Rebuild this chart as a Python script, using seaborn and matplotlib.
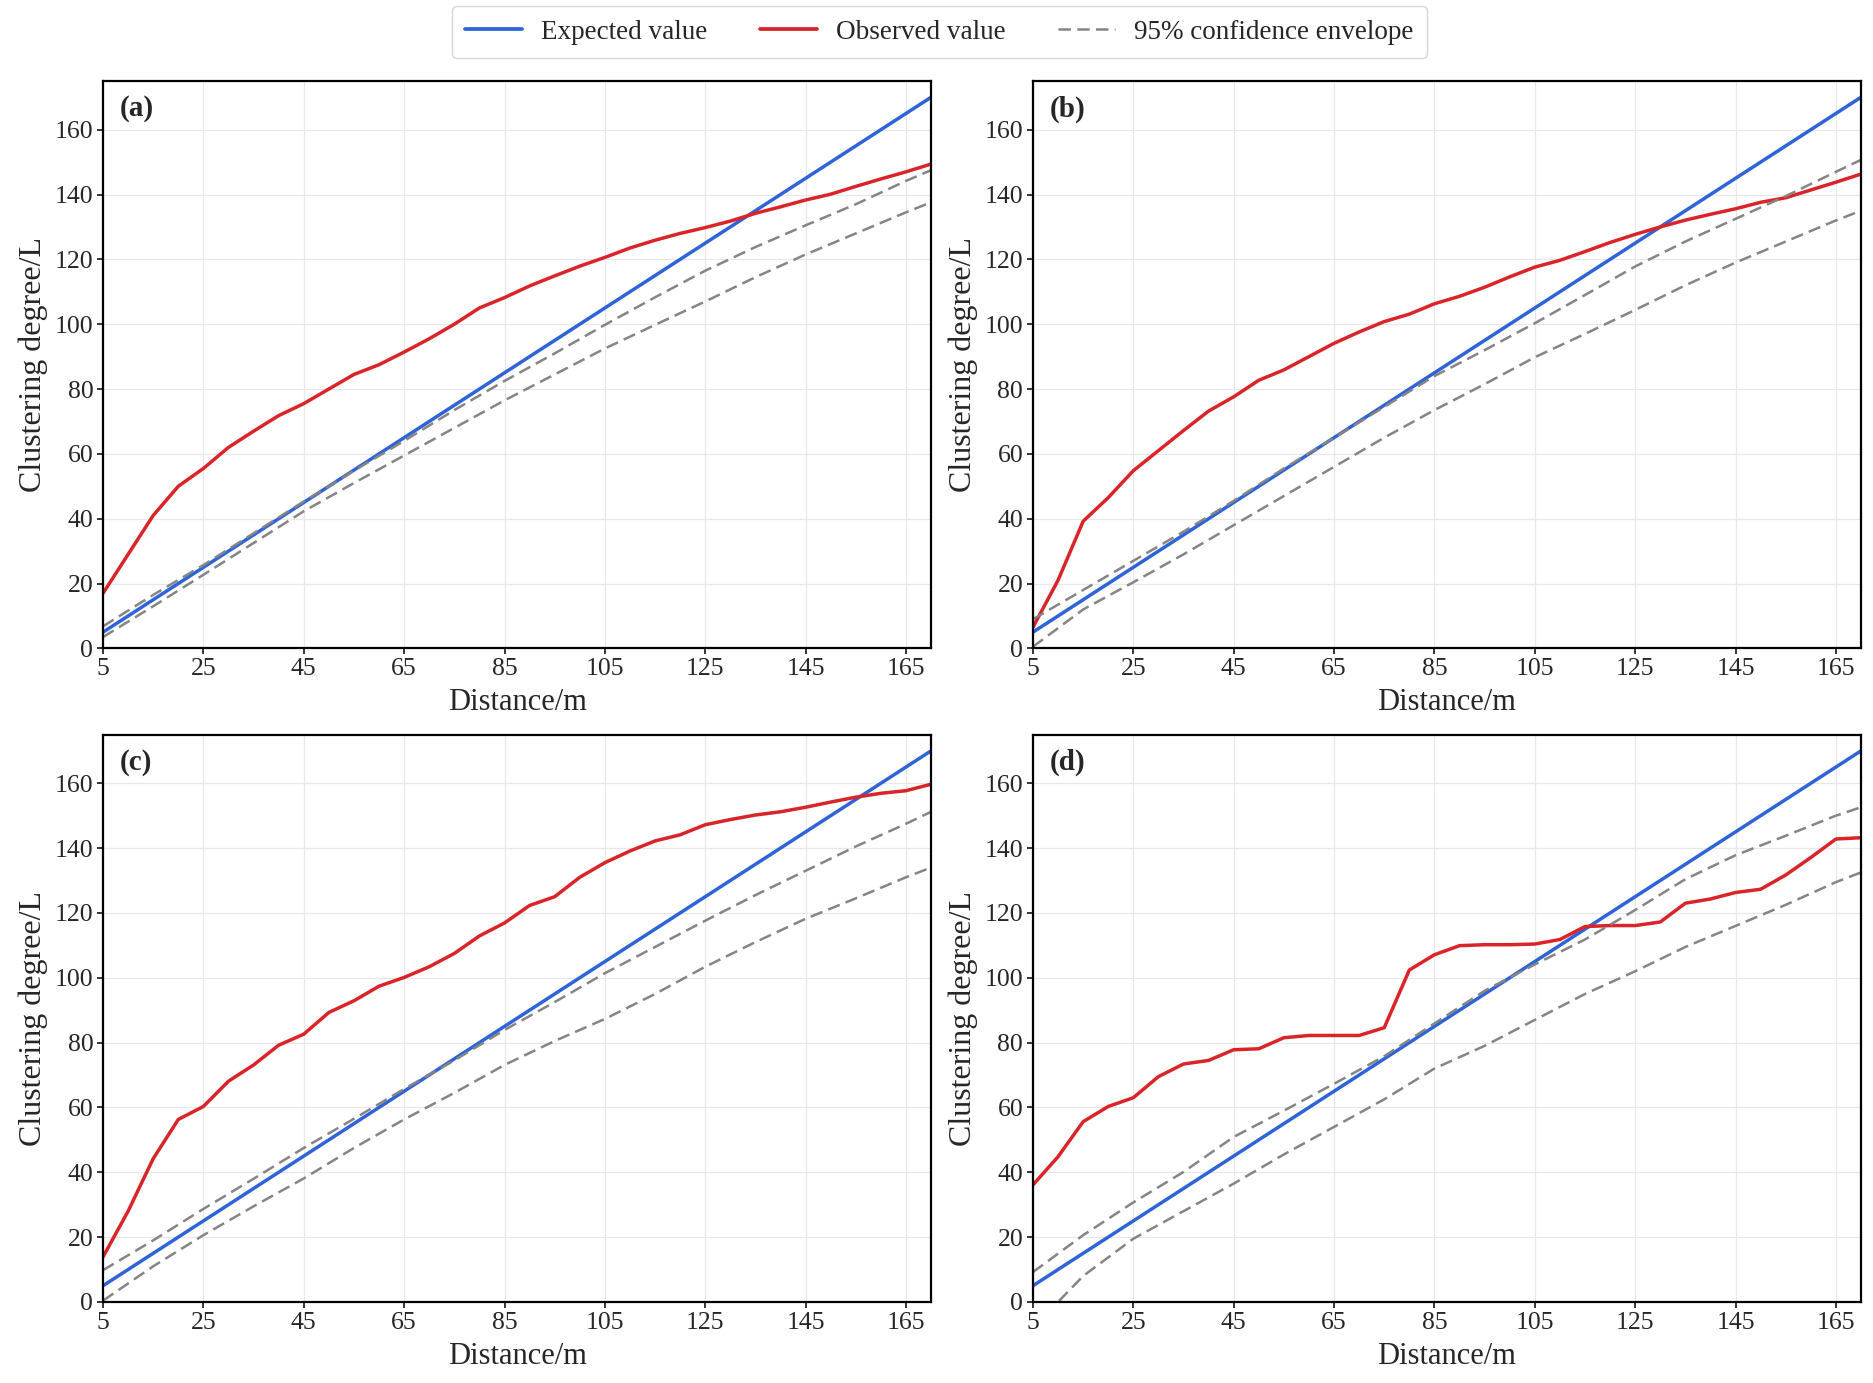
import matplotlib
matplotlib.use("Agg")
import matplotlib.pyplot as plt
from matplotlib.lines import Line2D
import seaborn as sns

# distances (m) for observed curves
distance = [5, 10, 15, 20, 25, 30, 35, 40, 45, 50, 55, 60, 65, 70, 75, 80, 85,
            90, 95, 100, 105, 110, 115, 120, 125, 130, 135, 140, 145, 150, 155,
            160, 165, 170]

obs_a = [17, 29, 41, 50, 55.5, 62, 67, 71.8, 75.5, 80, 84.5, 87.5, 91.4, 95.5,
         100, 105, 108.2, 111.8, 114.9, 117.9, 120.6, 123.5, 125.9, 128, 129.8,
         131.8, 134.2, 136.2, 138.3, 140.1, 142.5, 144.8, 147, 149.4]
obs_b = [6.5, 21, 39.2, 46.5, 54.8, 61, 67.2, 73.2, 77.6, 82.7, 85.9, 90, 94.1,
         97.6, 100.8, 103.1, 106.3, 108.6, 111.4, 114.6, 117.6, 119.7, 122.4,
         125.2, 127.7, 130, 132.1, 133.9, 135.6, 137.6, 139, 141.4, 143.8, 146.3]
obs_c = [13.9, 28, 44.2, 56.3, 60.3, 68.1, 73.1, 79.2, 82.6, 89.3, 92.9, 97.4,
         100.1, 103.4, 107.5, 112.9, 116.9, 122.3, 125, 131, 135.5, 139.1, 142.2,
         144.1, 147.2, 148.8, 150.2, 151.2, 152.6, 154.2, 155.7, 156.9, 157.7,
         159.7]
obs_d = [36.1, 44.8, 55.6, 60.3, 63, 69.5, 73.4, 74.5, 77.8, 78.1, 81.5, 82.2,
         82.2, 82.2, 84.6, 102.4, 107.1, 109.9, 110.2, 110.2, 110.4, 111.8, 115.8,
         116.1, 116.1, 117.2, 123, 124.3, 126.3, 127.3, 131.7, 137.1, 142.8, 143.2]

# expected value line (end points)
exp_x = [5, 170]
exp_y = [5, 170]

# confidence envelope, read every 10 m
env_x = [5, 15, 25, 35, 45, 55, 65, 75, 85, 95, 105, 115, 125, 135, 145, 155,
         165, 170]
up_a = [6.8, 16.5, 25.7, 35.5, 45.3, 54.8, 64, 73.5, 82.5, 91, 99.8, 108.3,
        116.5, 123.8, 130.5, 137, 144.2, 147.5]
lo_a = [3.5, 13, 22.7, 32.5, 42.3, 51, 59.5, 68, 76.5, 84.5, 92.5, 99.8, 107,
        114.5, 121.5, 128, 134.5, 137.6]
up_b = [9, 18, 27, 36, 45.5, 55.5, 65, 74.5, 84, 92, 100.3, 109, 117.8, 125.5,
        132.5, 139.5, 147, 150.7]
lo_b = [0.5, 12, 20.4, 29, 38, 47, 56, 65, 73.5, 81.5, 89.8, 97, 104.4, 112,
        119, 125.5, 132, 135]
up_c = [9.8, 19, 28.7, 38, 47.5, 56.5, 65.7, 74.5, 83.9, 92.5, 101.4, 109.5,
        117.6, 125.5, 133, 140.5, 147.5, 151.2]
lo_c = [0.4, 11, 20.6, 29.5, 38.1, 47.5, 56.3, 64.5, 73.1, 80.5, 87.3, 95,
        103.4, 111, 118.2, 124.5, 131, 134]
up_d = [9.2, 20.6, 30.7, 40.1, 50.9, 59, 67.3, 75.8, 85.9, 96, 104.1, 111.8,
        120.9, 130.4, 137.8, 143.8, 150, 152.6]
lo_d = [-8, 8, 19.5, 28, 36.5, 45.5, 54, 62.5, 72, 79, 87, 95, 102, 109.5, 116,
        122.5, 129.5, 132.5]

panels = ["(a)", "(b)", "(c)", "(d)"]
observed = [obs_a, obs_b, obs_c, obs_d]
uppers = [up_a, up_b, up_c, up_d]
lowers = [lo_a, lo_b, lo_c, lo_d]

x_ticks = [5, 25, 45, 65, 85, 105, 125, 145, 165]
y_ticks = [0, 20, 40, 60, 80, 100, 120, 140, 160]

blue = "#2E64D8"
red = "#D9252A"
grey = "#858585"

sns.set_style("whitegrid")
plt.rcParams["font.family"] = ["Liberation Serif", "DejaVu Serif"]

fig, axes = plt.subplots(2, 2, figsize=(18.73, 13.83), dpi=100)
fig.subplots_adjust(left=0.055, right=0.9936, top=0.9414, bottom=0.0586,
                    wspace=0.123, hspace=0.152)

for ax, lab, obs, up, lo in zip(axes.flat, panels, observed, uppers, lowers):
    sns.lineplot(x=exp_x, y=exp_y, ax=ax, color=blue, linewidth=2.5)
    sns.lineplot(x=distance, y=obs, ax=ax, color=red, linewidth=2.5)
    sns.lineplot(x=env_x, y=up, ax=ax, color=grey, linewidth=1.8,
                 linestyle=(0, (5, 2.5)))
    sns.lineplot(x=env_x, y=lo, ax=ax, color=grey, linewidth=1.8,
                 linestyle=(0, (5, 2.5)))
    ax.set_xlim(5, 170)
    ax.set_ylim(0, 175)
    ax.set_xticks(x_ticks)
    ax.set_yticks(y_ticks)
    ax.grid(True, color="#E8E8E8", linewidth=0.9)
    for s in ax.spines.values():
        s.set_color("black")
        s.set_linewidth(1.6)
    ax.tick_params(axis="both", labelsize=18.5, length=4, width=1.1,
                   color="black", pad=3, bottom=True, left=True)
    ax.set_xlabel("Distance/m", fontsize=22, labelpad=6)
    ax.set_ylabel("Clustering degree/L", fontsize=23, labelpad=5)
    ax.text(0.02, 0.975, lab, transform=ax.transAxes, fontsize=21,
            fontweight="bold", va="top", ha="left")

handles = [
    Line2D([], [], color=blue, linewidth=2.7),
    Line2D([], [], color=red, linewidth=2.7),
    Line2D([], [], color=grey, linewidth=1.8, linestyle=(0, (5, 2.5))),
]
labels = ["Expected value", "Observed value", "95% confidence envelope"]
leg = fig.legend(handles, labels, loc="upper center",
                 bbox_to_anchor=(0.5015, 1.0035), ncol=3, fontsize=19.5,
                 frameon=True, fancybox=True, handlelength=2.1,
                 columnspacing=1.95, handletextpad=0.7, borderpad=0.5,
                 borderaxespad=0.4)
leg.get_frame().set_edgecolor("#CCCCCC")
leg.get_frame().set_linewidth(1.0)

fig.savefig("out.png", dpi=100)
